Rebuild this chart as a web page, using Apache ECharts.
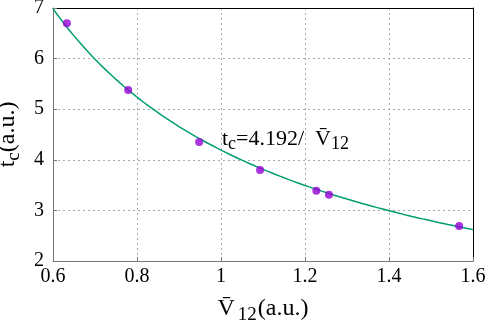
<!DOCTYPE html>
<html>
<head>
<meta charset="utf-8">
<script src="https://cdn.jsdelivr.net/npm/echarts@6/dist/echarts.min.js"></script>
<style>
  html, body { margin: 0; padding: 0; background: #fff; }
  #chart { width: 491px; height: 324px; }
</style>
</head>
<body>
<div id="chart"></div>
<script>
// measured points
const vBar = [0.633, 0.779, 0.948, 1.093, 1.227, 1.257, 1.567];
const tc = [6.70, 5.38, 4.35, 3.80, 3.39, 3.31, 2.69];
// fit t_c = k / V12
const fitCoef = 4.192;
const xTicks = [0.6, 0.8, 1, 1.2, 1.4, 1.6];
const yTicks = [2, 3, 4, 5, 6, 7];

const fitLine = [];
for (let i = 0; i <= 100; i++) {
  const x = 0.6 + i * 0.01;
  fitLine.push([x, fitCoef / x]);
}

const serif = "Liberation Serif";
const chart = echarts.init(document.getElementById("chart"));
chart.setOption({
  animation: false,
  grid: { left: 53, right: 18, top: 8, bottom: 63, outerBoundsMode: "none" },
  xAxis: [
    {
      type: "value",
      min: 0.6,
      max: 1.6,
      interval: 0.2,
      name: "{v|V\u0304}{sub|12}{v|(a.u.)}",
      nameLocation: "middle",
      nameGap: 32,
      nameTextStyle: {
        rich: {
          v: { fontFamily: serif, fontSize: 24, color: "#000" },
          sub: { fontFamily: serif, fontSize: 19, color: "#000", padding: [13, 1, 0, 3] }
        }
      },
      axisLine: { lineStyle: { color: "#777", width: 1 } },
      axisTick: { show: true, inside: true, length: 4, lineStyle: { color: "#777" } },
      axisLabel: {
        fontFamily: serif, fontSize: 20, color: "#000", margin: 6,
        formatter: v => String(+v.toFixed(1))
      },
      splitLine: { show: true, lineStyle: { color: "#aaa", type: [2, 3], width: 1 } }
    },
    {
      type: "value", position: "top", min: 0.6, max: 1.6,
      axisLine: { lineStyle: { color: "#000", width: 1 } },
      axisTick: { show: false }, axisLabel: { show: false }, splitLine: { show: false }
    }
  ],
  yAxis: [
    {
      type: "value",
      min: 2,
      max: 7,
      interval: 1,
      name: "{t|t}{sub|c}{t|(a.u.)}",
      nameLocation: "middle",
      nameRotate: 90,
      nameGap: 27,
      nameTextStyle: {
        rich: {
          t: { fontFamily: serif, fontSize: 24, color: "#000" },
          sub: { fontFamily: serif, fontSize: 19, color: "#000", padding: [12, 0, 0, 0] }
        }
      },
      axisLine: { show: true, lineStyle: { color: "#777", width: 1 } },
      axisTick: { show: true, inside: true, length: 4, lineStyle: { color: "#777" } },
      axisLabel: { fontFamily: serif, fontSize: 20, color: "#000", margin: 9 },
      splitLine: { show: true, lineStyle: { color: "#aaa", type: [2, 3], width: 1 } }
    },
    {
      type: "value", position: "right", min: 2, max: 7,
      axisLine: { show: true, lineStyle: { color: "#000", width: 1 } },
      axisTick: { show: false }, axisLabel: { show: false }, splitLine: { show: false }
    }
  ],
  series: [
    {
      type: "line",
      data: fitLine,
      showSymbol: false,
      smooth: false,
      lineStyle: { color: "#009e73", width: 1.5 },
      z: 2
    },
    {
      type: "scatter",
      data: vBar.map((v, i) => [v, tc[i]]),
      symbolSize: 8,
      itemStyle: { color: "#9400d3" },
      z: 3
    }
  ],
  graphic: [
    {
      type: "text",
      left: 222,
      top: 128,
      style: {
        text: "{t|t}{sub|c}{t|=4.192/  V\u0304}{sub|12}",
        rich: {
          t: { fontFamily: serif, fontSize: 22, fill: "#000" },
          sub: { fontFamily: serif, fontSize: 18, fill: "#000", padding: [11, 0, 0, 0] }
        }
      }
    }
  ]
});
</script>
</body>
</html>
